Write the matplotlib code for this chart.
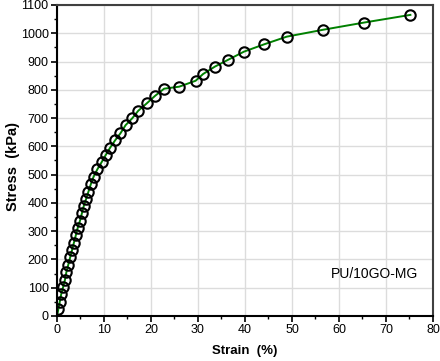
import matplotlib
matplotlib.use('Agg')
import matplotlib.pyplot as plt
from matplotlib.ticker import MultipleLocator

plt.rcParams['font.family'] = ['Liberation Sans', 'DejaVu Sans']

# data
strain = [0, 0.3, 0.6, 0.9, 1.3, 1.7, 2.0, 2.4, 2.8, 3.2, 3.6, 4.0, 4.4, 4.9,
          5.3, 5.7, 6.2, 6.7, 7.2, 7.8, 8.6, 9.5, 10.4, 11.3, 12.4, 13.5, 14.6,
          16.0, 17.3, 19.1, 20.9, 22.8, 26.0, 29.5, 31.1, 33.6, 36.4, 39.8,
          44.1, 48.9, 56.5, 65.4, 75.2]
stress = [0, 25, 51, 77, 102, 128, 155, 181, 207, 233, 259, 285, 311, 337,
          363, 389, 414, 440, 466, 493, 519, 544, 570, 595, 622, 646, 675,
          699, 726, 752, 779, 804, 811, 832, 856, 882, 906, 935, 961, 988,
          1012, 1038, 1065]
label = 'PU/10GO-MG'

fig = plt.figure(figsize=(4.4, 3.61), dpi=100)
ax = fig.add_axes([0.1295, 0.1247, 0.8545, 0.8615])

ax.plot(strain, stress, color='#008000', lw=1.4, zorder=2)
ax.plot(strain[1:], stress[1:], ls='none', marker='o', ms=7.5, mfc='none',
        mec='black', mew=1.5, zorder=3)

ax.set_xlim(0, 80)
ax.set_ylim(0, 1100)
ax.xaxis.set_major_locator(MultipleLocator(10))
ax.xaxis.set_minor_locator(MultipleLocator(5))
ax.yaxis.set_major_locator(MultipleLocator(100))
ax.yaxis.set_minor_locator(MultipleLocator(50))
ax.grid(True, which='major', color='#dcdcdc', lw=1.0, zorder=0)
ax.set_axisbelow(True)

ax.tick_params(which='major', direction='out', length=4, width=1.2,
               labelsize=9, pad=2)
ax.tick_params(which='minor', direction='out', length=2.5, width=1.0)

for s in ['left', 'bottom']:
    ax.spines[s].set_linewidth(1.5)
    ax.spines[s].set_color('black')
for s in ['right', 'top']:
    ax.spines[s].set_linewidth(1.5)
    ax.spines[s].set_color('#404040')

ax.set_xlabel('Strain  (%)', fontsize=9.5, fontweight='bold', labelpad=6)
ax.set_ylabel('Stress  (kPa)', fontsize=10.5, fontweight='bold', va='center')
ax.yaxis.set_label_coords(-0.118, 0.48)

ax.text(0.96, 0.135, label, transform=ax.transAxes, ha='right', va='center',
        fontsize=10)

fig.savefig('out.png', dpi=100)
